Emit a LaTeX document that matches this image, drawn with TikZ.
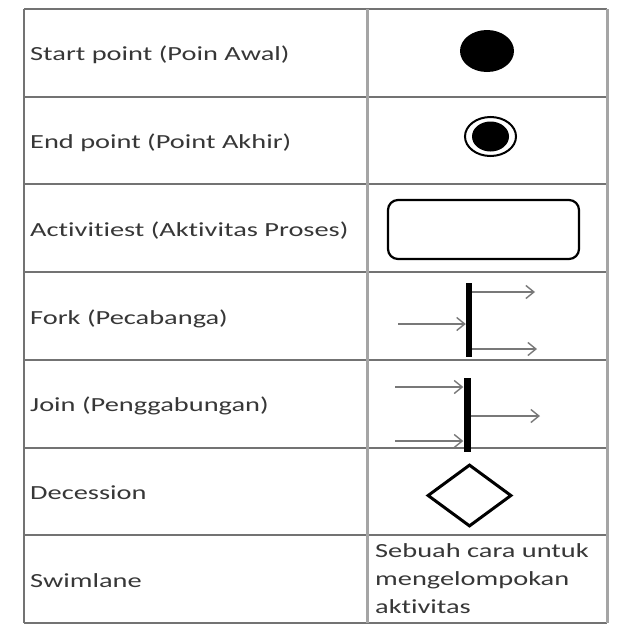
\documentclass[tikz,border=0pt]{standalone}
\usepackage{fontspec}
\setmainfont{Carlito}[FakeStretch=1.42,Ligatures={NoCommon}]
\usetikzlibrary{shapes.geometric,arrows.meta}
\definecolor{gridc}{RGB}{115,115,115}
\definecolor{vgrid}{RGB}{165,165,165}
\definecolor{txt}{RGB}{55,55,55}
\definecolor{flowc}{RGB}{120,120,120}
\tikzset{
  lbl/.style={anchor=base west,inner sep=0pt,text=txt,font=\fontsize{20}{28}\selectfont},
  hline/.style={draw=gridc,line width=2pt},
  vline/.style={draw=vgrid,line width=3pt},
  flow/.style={draw=flowc,line width=1.4pt,-{Straight Barb[length=8pt,width=13pt,line width=1.4pt]}},
  bar/.style={draw=none,fill=black,rectangle,inner sep=0pt},
}
\begin{document}
\begin{tikzpicture}[x=1pt,y=-1pt]
\useasboundingbox[fill=white] (0,0) rectangle (640,640);
% table
\foreach \yy in {9,96.7,184.4,272.1,359.8,447.5,535.2,623}
  \draw[hline] (24,\yy) -- (607,\yy);
\draw[hline] (24,9) -- (24,623);
\draw[vline] (367,9) -- (367,623);
\draw[vline] (607,9) -- (607,623);
% labels
\node[lbl] (l1) at (30,60.8) {Start point (Poin Awal)};
\node[lbl] (l2) at (30,148.5) {End point (Point Akhir)};
\node[lbl] (l3) at (30,236.2) {Activitiest (Aktivitas Proses)};
\node[lbl] (l4) at (30,324) {Fork (Pecabanga)};
\node[lbl] (l5) at (30,411.6) {Join (Penggabungan)};
\node[lbl] (l6) at (30,499.3) {Decession};
\node[lbl] (l7) at (30,587) {Swimlane};
% start
\node[ellipse,fill=black,draw=none,minimum width=54pt,minimum height=42pt,inner sep=0pt] (start) at (487,51) {};
% end
\node[ellipse,draw=black,line width=2pt,minimum width=51pt,minimum height=39pt,inner sep=0pt] (endo) at (490.5,136.5) {};
\node[ellipse,fill=black,draw=none,minimum width=37pt,minimum height=30pt,inner sep=0pt] (endi) at (490.5,136.5) {};
% activity
\node[rectangle,rounded corners=10pt,draw=black,line width=2.2pt,minimum width=191pt,minimum height=59pt,inner sep=0pt] (act) at (483.5,229.5) {};
% fork
\node[bar,minimum width=6pt,minimum height=74pt] (fork) at (469,320) {};
\coordinate (fin) at (398,324);
\coordinate (fo1) at (535,292);
\coordinate (fo2) at (537,349);
\draw[flow] (fin) -- (fin -| fork.west);
\draw[flow] (fo1 -| fork.east) -- (fo1);
\draw[flow] (fo2 -| fork.east) -- (fo2);
% join
\node[bar,minimum width=7pt,minimum height=74pt] (join) at (467,415) {};
\coordinate (ji1) at (395,387);
\coordinate (ji2) at (395,441);
\coordinate (jo) at (540,416);
\draw[flow] (ji1) -- (ji1 -| join.west);
\draw[flow] (ji2) -- (ji2 -| join.west);
\draw[flow] (join.east |- jo) -- (jo);
% decision
\node[diamond,draw=black,line width=3pt,minimum width=84pt,minimum height=62pt,inner sep=0pt] (dec) at (469.5,495.5) {};
% swimlane description
\node[lbl,align=left] (sw) at (375,613) {Sebuah cara untuk\\mengelompokan\\aktivitas};
\end{tikzpicture}
\end{document}
